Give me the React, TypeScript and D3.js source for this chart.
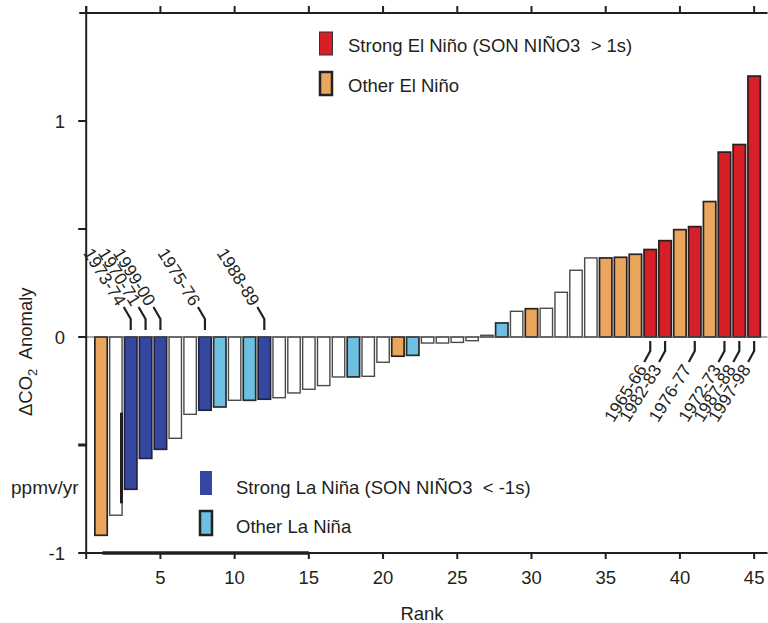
import React from "react";
import * as d3 from "d3";

const ranks = d3.range(1, 46);
const anomaly = [
  -0.918, -0.825, -0.705, -0.562, -0.52, -0.469, -0.358, -0.339, -0.324, -0.293,
  -0.293, -0.288, -0.281, -0.259, -0.242, -0.225, -0.185, -0.185, -0.182, -0.117,
  -0.089, -0.085, -0.028, -0.028, -0.025, -0.017, 0.008, 0.065, 0.119, 0.131,
  0.133, 0.207, 0.309, 0.366, 0.366, 0.369, 0.383, 0.405, 0.446, 0.497,
  0.511, 0.627, 0.856, 0.891, 1.208,
];
// SE strong El Niño, OE other El Niño, SL strong La Niña, OL other La Niña, N neutral
const eventType = [
  "OE", "N", "SL", "SL", "SL", "N", "N", "SL", "OL", "N",
  "OL", "SL", "N", "N", "N", "N", "N", "OL", "N", "N",
  "OE", "OL", "N", "N", "N", "N", "N", "OL", "N", "OE",
  "N", "N", "N", "N", "OE", "OE", "OE", "SE", "SE", "OE",
  "SE", "OE", "SE", "SE", "SE",
];
const laNinaRanks = [3, 4, 5, 8, 12];
const laNinaYears = ["1973-74", "1970-71", "1999-00", "1975-76", "1988-89"];
const elNinoRanks = [38, 39, 41, 43, 44, 45];
const elNinoYears = ["1965-66", "1982-83", "1976-77", "1972-73", "1987-88", "1997-98"];
const xTicks = [5, 10, 15, 20, 25, 30, 35, 40, 45];
const topTicks = [0, 5, 10, 15, 20, 25, 30, 35, 40, 45];
const yTicks = [-1, -0.5, 0, 0.5, 1];
const yTickLabels: Record<string, string> = { "-1": "-1", "0": "0", "1": "1" };

const FONT = "'Liberation Sans', Arial, Helvetica, sans-serif";
const INK = "#231f20";

const fills: Record<string, string> = {
  SE: "#d61f27",
  OE: "#e9a65c",
  SL: "#3547a0",
  OL: "#6dc0e1",
  N: "#ffffff",
};
const strokes: Record<string, string> = {
  SE: "#2a1d1d",
  OE: "#2a2220",
  SL: "#1f2440",
  OL: "#2a2a2a",
  N: "#4a4a4a",
};

export default function App() {
  const W = 768;
  const H = 623;
  const x = d3.scaleLinear().domain([0, 45.9]).range([86.2, 767.5]);
  const y = d3.scaleLinear().domain([-1, 1.5]).range([553, 13]);
  const bw = 12.4;
  const y0 = y(0);

  return (
    <svg
      width={W}
      height={H}
      style={{ position: "absolute", left: 0, top: 0, background: "#fff" }}
      fontFamily={FONT}
    >
      {/* bars */}
      {ranks.map((r, i) => {
        const v = anomaly[i];
        const t = eventType[i];
        const top = Math.min(y(v), y0);
        const h = Math.max(Math.abs(y(v) - y0), 1.5);
        return (
          <rect
            key={r}
            x={x(r) - bw / 2}
            y={top}
            width={bw}
            height={h}
            fill={fills[t]}
            stroke={strokes[t]}
            strokeWidth={t === "N" ? 1.4 : 1.7}
          />
        );
      })}

      {/* zero line */}
      <line x1={x(0)} x2={x(45.9)} y1={y0} y2={y0} stroke="#555" strokeWidth={1} />

      {/* axes */}
      <line x1={x(0) - 7} x2={x(45.9)} y1={y(1.5)} y2={y(1.5)} stroke={INK} strokeWidth={2} />
      <line x1={x(0) - 7} x2={x(45.9)} y1={y(-1)} y2={y(-1)} stroke={INK} strokeWidth={2} />
      <line x1={x(0)} x2={x(0)} y1={y(1.5) - 7} y2={y(-1) + 6} stroke={INK} strokeWidth={2} />
      {/* scan artifacts along the axis */}
      <line x1={x(1.1)} x2={x(15)} y1={y(-1)} y2={y(-1)} stroke={INK} strokeWidth={3.5} />
      <line x1={x(2.38)} x2={x(2.38)} y1={y(-0.35)} y2={y(-0.77)} stroke={INK} strokeWidth={3} />

      {topTicks.map((t) => (
        <line key={"tt" + t} x1={x(t)} x2={x(t)} y1={y(1.5)} y2={y(1.5) - 7} stroke={INK} strokeWidth={2} />
      ))}
      {xTicks.map((t) => (
        <g key={"xt" + t}>
          <line x1={x(t)} x2={x(t)} y1={y(-1)} y2={y(-1) + 6} stroke={INK} strokeWidth={2} />
          <text x={x(t)} y={584} textAnchor="middle" fontSize={18.5} fill={INK}>
            {t}
          </text>
        </g>
      ))}
      {yTicks.map((t) => (
        <g key={"yt" + t}>
          <line
            x1={x(0) - 8}
            x2={x(0)}
            y1={y(t)}
            y2={y(t)}
            stroke={INK}
            strokeWidth={t === -0.5 ? 3 : 2}
          />
          {yTickLabels[String(t)] && (
            <text x={65} y={y(t) + 7} textAnchor="end" fontSize={18.5} fill={INK}>
              {yTickLabels[String(t)]}
            </text>
          )}
        </g>
      ))}

      {/* axis titles */}
      <text x={422} y={620} textAnchor="middle" fontSize={18.5} fill={INK}>
        Rank
      </text>
      <text transform="translate(32,416) rotate(-90)" fontSize={18.5} fill={INK} style={{ whiteSpace: "pre" }}>
        <tspan>ΔCO</tspan>
        <tspan fontSize={13} dy={5}>2</tspan>
        <tspan dy={-5}>{"  Anomaly"}</tspan>
      </text>
      <text x={11} y={494} fontSize={19} fill={INK}>
        ppmv/yr
      </text>

      {/* La Niña labels */}
      {laNinaRanks.map((r, i) => {
        const cx = x(r);
        const path = `M${cx},${y0 - 7} L${cx},${y0 - 18} L${cx - 7},${y0 - 30}`;
        return (
          <g key={"ln" + r}>
            <path d={path} fill="none" stroke={INK} strokeWidth={2.2} />
            <text
              transform={`translate(${cx - 9},${y0 - 33}) rotate(58)`}
              textAnchor="end"
              dy="0.35em"
              fontSize={17.4}
              fill={INK}
            >
              {laNinaYears[i]}
            </text>
          </g>
        );
      })}

      {/* El Niño labels */}
      {elNinoRanks.map((r, i) => {
        const cx = x(r);
        const path = `M${cx},${y0 + 4} L${cx},${y0 + 14} L${cx - 6},${y0 + 25}`;
        return (
          <g key={"en" + r}>
            <path d={path} fill="none" stroke={INK} strokeWidth={2.2} />
            <text
              transform={`translate(${cx - 8},${y0 + 29}) rotate(-58)`}
              textAnchor="end"
              dy="0.35em"
              fontSize={17.4}
              fill={INK}
            >
              {elNinoYears[i]}
            </text>
          </g>
        );
      })}

      {/* legends */}
      <rect x={319.5} y={32} width={13} height={23} fill={fills.SE} stroke="#333" strokeWidth={1} />
      <text x={348} y={52} fontSize={18.5} fill={INK} style={{ whiteSpace: "pre" }}>
        {"Strong El Niño (SON NIÑO3  > 1s)"}
      </text>
      <rect x={320} y={72} width={12} height={23} fill={fills.OE} stroke="#222" strokeWidth={2.5} />
      <text x={348} y={92} fontSize={18.5} fill={INK}>
        Other El Niño
      </text>

      <rect x={200} y={471} width={12} height={24} fill={fills.SL} />
      <text x={236} y={494} fontSize={18.5} fill={INK} style={{ whiteSpace: "pre" }}>
        {"Strong La Niña (SON NIÑO3  < -1s)"}
      </text>
      <rect x={200} y={511} width={12} height={24} fill={fills.OL} stroke="#222" strokeWidth={2.5} />
      <text x={236} y={533} fontSize={18.5} fill={INK}>
        Other La Niña
      </text>
    </svg>
  );
}
